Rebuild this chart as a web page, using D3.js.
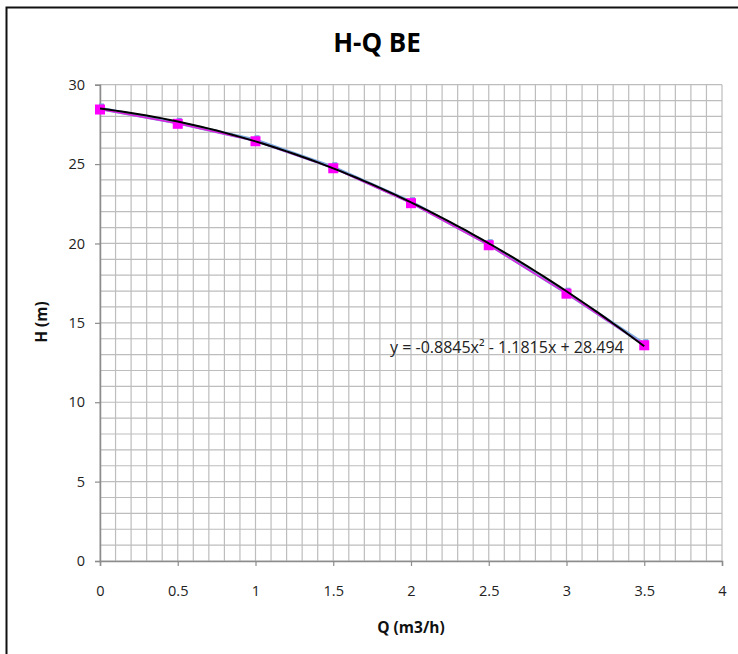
<!DOCTYPE html>
<html>
<head>
<meta charset="utf-8">
<script src="https://cdn.jsdelivr.net/npm/d3@7/dist/d3.min.js"></script>
<style>
  html, body { margin: 0; padding: 0; background: #fff; }
  svg { display: block; }
  text { font-family: "Open Sans", "Liberation Sans", sans-serif; }
</style>
</head>
<body>
<svg id="chart" width="738" height="654"></svg>
<script>
// ---- data ----
const flowQ = [0, 0.5, 1, 1.5, 2, 2.5, 3, 3.5];           // Q (m3/h)
const headH = [28.5, 27.6, 26.5, 24.8, 22.6, 19.95, 16.9, 13.65]; // H (m)
const trendCoeffs = [-0.8845, -1.1815, 28.494];           // a, b, c of y = a x^2 + b x + c
const xTicks = [0, 0.5, 1, 1.5, 2, 2.5, 3, 3.5, 4];
const yTicks = [0, 5, 10, 15, 20, 25, 30];
const chartTitle = "H-Q BE";
const xTitle = "Q (m3/h)";
const yTitle = "H (m)";
const equationLabel = "y = -0.8845x² - 1.1815x + 28.494";

// ---- layout ----
const svg = d3.select("#chart");
const pLeft = 100, pRight = 722, pTop = 84.7, pBottom = 561;

const x = d3.scaleLinear().domain([0, 4]).range([pLeft, pRight]);
const y = d3.scaleLinear().domain([0, 30]).range([pBottom, pTop]);

// outer chart border
svg.append("rect")
  .attr("x", 6.5).attr("y", 7.5)
  .attr("width", 760).attr("height", 700)
  .attr("fill", "#fff").attr("stroke", "#111").attr("stroke-width", 2);

// grid
const grid = svg.append("g");
grid.selectAll("line.v")
  .data(d3.range(0, 41).map(i => i / 10))
  .enter().append("line")
  .attr("x1", d => x(d)).attr("x2", d => x(d))
  .attr("y1", pTop).attr("y2", pBottom)
  .attr("stroke", "#bdbdbd").attr("stroke-width", 1.2);
grid.selectAll("line.h")
  .data(d3.range(0, 31))
  .enter().append("line")
  .attr("x1", pLeft).attr("x2", pRight)
  .attr("y1", d => y(d)).attr("y2", d => y(d))
  .attr("stroke", "#bdbdbd").attr("stroke-width", 1.2);

// axes
const xAxis = d3.axisBottom(x).tickValues(xTicks).tickSize(5).tickPadding(20)
  .tickFormat(d => String(d));
const yAxis = d3.axisLeft(y).tickValues(yTicks).tickSize(5).tickPadding(10)
  .tickFormat(d => String(d));

const gx = svg.append("g").attr("transform", `translate(0,${pBottom})`).call(xAxis);
const gy = svg.append("g").attr("transform", `translate(${pLeft},0)`).call(yAxis);
[gx, gy].forEach(g => {
  g.select(".domain").attr("stroke", "#8c8c8c").attr("stroke-width", 1.5);
  g.selectAll(".tick line").attr("stroke", "#8c8c8c").attr("stroke-width", 1.2);
  g.selectAll(".tick text").attr("fill", "#222").style("font-size", "14.5px")
    .style("font-family", "'Open Sans', sans-serif");
});

// series line (blue underlay + magenta)
const line = d3.line().x((d, i) => x(flowQ[i])).y(d => y(d));
svg.append("path").datum(headH)
  .attr("d", line).attr("fill", "none")
  .attr("stroke", "#7aa6dc").attr("stroke-width", 3.5);
svg.append("path").datum(headH)
  .attr("d", line).attr("fill", "none")
  .attr("stroke", "#e020e0").attr("stroke-width", 1.5)
  .attr("transform", "translate(0,0.8)");

// blue small markers behind
svg.selectAll("rect.bm").data(headH).enter().append("rect")
  .attr("x", (d, i) => x(flowQ[i]) - 1)
  .attr("y", d => y(d) - 5)
  .attr("width", 5).attr("height", 5)
  .attr("fill", "#6f9fd8");

// magenta square markers
svg.selectAll("rect.m").data(headH).enter().append("rect")
  .attr("x", (d, i) => x(flowQ[i]) - 5)
  .attr("y", d => y(d) - 4)
  .attr("width", 10).attr("height", 10)
  .attr("fill", "#ff00ff");

// polynomial trendline (from displayed equation)
const [a, b, c] = trendCoeffs;
const tx = d3.range(0, 3.5001, 0.05);
svg.append("path").datum(tx)
  .attr("d", d3.line().x(d => x(d)).y(d => y(a * d * d + b * d + c)).curve(d3.curveMonotoneX))
  .attr("fill", "none").attr("stroke", "#000").attr("stroke-width", 2);

// equation label
svg.append("text")
  .attr("x", 390).attr("y", 353)
  .style("font-size", "16px").attr("fill", "#222")
  .text(equationLabel);

// titles
svg.append("text")
  .attr("x", 377).attr("y", 52)
  .attr("text-anchor", "middle")
  .style("font-size", "26px").style("font-weight", "bold").attr("fill", "#000")
  .text(chartTitle);

svg.append("text")
  .attr("x", (pLeft + pRight) / 2).attr("y", 633)
  .attr("text-anchor", "middle")
  .style("font-size", "15.5px").style("font-weight", "bold").attr("fill", "#111")
  .text(xTitle);

svg.append("text")
  .attr("transform", `translate(47,322) rotate(-90)`)
  .attr("text-anchor", "middle")
  .style("font-size", "15.5px").style("font-weight", "bold").attr("fill", "#111")
  .text(yTitle);
</script>
</body>
</html>
